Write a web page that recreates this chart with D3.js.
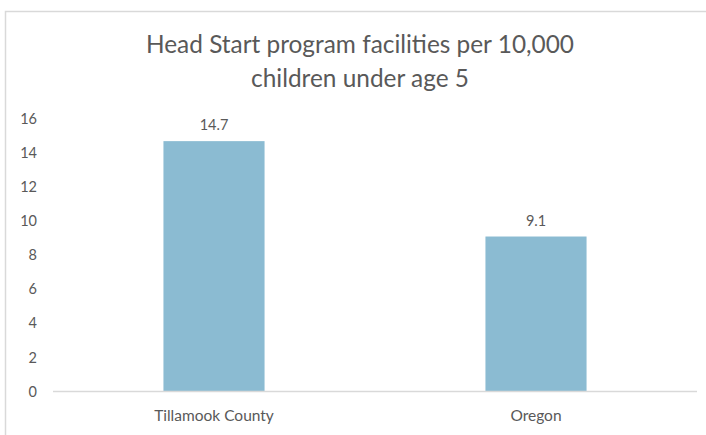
<!DOCTYPE html>
<html>
<head>
<meta charset="utf-8">
<script src="https://cdn.jsdelivr.net/npm/d3@7"></script>
<style>
  body { margin: 0; background: #fff; }
  text { font-family: Lato, "Open Sans", sans-serif; fill: #595959; }
</style>
</head>
<body>
<div id="chart"></div>
<script>
var categories = ["Tillamook County", "Oregon"];
var values = [14.7, 9.1];
var yTicks = [0, 2, 4, 6, 8, 10, 12, 14, 16];
var titleLines = ["Head Start program facilities per 10,000", "children under age 5"];

var width = 706, height = 435;

var svg = d3.select("#chart").append("svg")
  .attr("width", width)
  .attr("height", height);

// chart border
svg.append("rect")
  .attr("x", 5.5).attr("y", 11.5)
  .attr("width", 720).attr("height", 440)
  .attr("fill", "none")
  .attr("stroke", "#d9d9d9")
  .attr("stroke-width", 1.5);

var x = d3.scaleBand()
  .domain(categories)
  .range([53, 697])
  .paddingInner(0.686)
  .paddingOuter(0.343);

var y = d3.scaleLinear()
  .domain([0, 16])
  .range([391.5, 119]);

// title
svg.selectAll(".title")
  .data(titleLines)
  .enter().append("text")
  .attr("class", "title")
  .attr("x", 360)
  .attr("y", function (d, i) { return 53 + i * 34; })
  .attr("text-anchor", "middle")
  .style("font-size", "24.4px")
  .text(function (d) { return d; });

// y axis labels
svg.selectAll(".ytick")
  .data(yTicks)
  .enter().append("text")
  .attr("class", "ytick")
  .attr("x", 37)
  .attr("y", function (d) { return y(d); })
  .attr("dy", "0.35em")
  .attr("text-anchor", "end")
  .style("font-size", "14.5px")
  .text(function (d) { return d; });

// bars
svg.selectAll(".bar")
  .data(values)
  .enter().append("rect")
  .attr("class", "bar")
  .attr("x", function (d, i) { return x(categories[i]); })
  .attr("y", function (d) { return y(d); })
  .attr("width", x.bandwidth())
  .attr("height", function (d) { return y(0) - y(d); })
  .attr("fill", "#8bbbd2");

// value labels
svg.selectAll(".val")
  .data(values)
  .enter().append("text")
  .attr("class", "val")
  .attr("x", function (d, i) { return x(categories[i]) + x.bandwidth() / 2; })
  .attr("y", function (d) { return y(d) - 11; })
  .attr("text-anchor", "middle")
  .style("font-size", "14.5px")
  .text(function (d) { return d; });

// x axis line
svg.append("line")
  .attr("x1", 53).attr("x2", 697)
  .attr("y1", y(0)).attr("y2", y(0))
  .attr("stroke", "#d9d9d9")
  .attr("stroke-width", 1.5);

// category labels
svg.selectAll(".cat")
  .data(categories)
  .enter().append("text")
  .attr("class", "cat")
  .attr("x", function (d) { return x(d) + x.bandwidth() / 2; })
  .attr("y", 421)
  .attr("text-anchor", "middle")
  .style("font-size", "15.5px")
  .text(function (d) { return d; });
</script>
</body>
</html>
